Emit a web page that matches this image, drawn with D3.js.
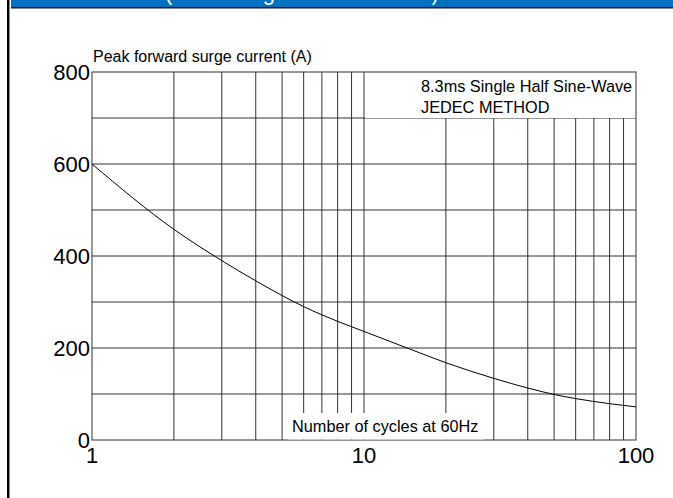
<!DOCTYPE html>
<html>
<head>
<meta charset="utf-8">
<script src="https://cdn.jsdelivr.net/npm/d3@7"></script>
<style>
  body { margin: 0; background: #fff; }
  svg { display: block; font-family: Arial, "Liberation Sans", sans-serif; }
</style>
</head>
<body>
<div id="chart"></div>
<script>
// Surge current vs number of cycles
const cycles = [1, 2, 3, 4, 5, 6, 8, 10, 15, 20, 30, 40, 50, 60, 80, 100];
const surgeAmps = [600, 458, 390, 346, 314, 290, 258, 236, 196, 168, 134, 113, 99, 90, 79, 72];

const xTicks = [1, 10, 100];
const yTicks = [0, 200, 400, 600, 800];
const yGrid = [100, 200, 300, 400, 500, 600, 700];
const xGrid = [2, 3, 4, 5, 6, 7, 8, 9, 10, 20, 30, 40, 50, 60, 70, 80, 90];

const headerText = "(Peak Surge Current Curve)";
const yTitle = "Peak forward surge current (A)";
const xTitle = "Number of cycles at 60Hz";
const noteLines = ["8.3ms Single Half Sine-Wave", "JEDEC METHOD"];

const width = 673, height = 498;
const margin = { top: 72, right: 37, bottom: 58, left: 92 };

const svg = d3.select("#chart")
  .append("svg")
  .attr("width", width)
  .attr("height", height);

// page frame: blue header strip and left border
svg.append("rect").attr("x", 11).attr("y", 0).attr("width", width - 11).attr("height", 7).attr("fill", "#0070c0");
svg.append("rect").attr("x", 11).attr("y", 7).attr("width", width - 11).attr("height", 1).attr("fill", "#1a1a1a");
svg.append("rect").attr("x", 11).attr("y", 8).attr("width", width - 11).attr("height", 1).attr("fill", "#8a8a8a");
svg.append("rect").attr("x", 7).attr("y", 0).attr("width", 2).attr("height", height).attr("fill", "#000");
svg.append("rect").attr("x", 9).attr("y", 0).attr("width", 1).attr("height", height).attr("fill", "#8a8a8a");

// header title, mostly cut off at the top of the page
svg.append("text")
  .attr("x", 165)
  .attr("y", 0)
  .attr("fill", "#fff")
  .attr("font-size", 22)
  .text(headerText);

const x = d3.scaleLog()
  .domain([1, 100])
  .range([margin.left, width - margin.right]);

const y = d3.scaleLinear()
  .domain([0, 800])
  .range([height - margin.bottom, margin.top]);

const grid = svg.append("g").attr("stroke", "#333").attr("stroke-width", 1);

grid.selectAll(".hgrid")
  .data(yGrid)
  .enter()
  .append("line")
  .attr("x1", x(1))
  .attr("x2", x(100))
  .attr("y1", d => y(d))
  .attr("y2", d => y(d));

grid.selectAll(".vgrid")
  .data(xGrid)
  .enter()
  .append("line")
  .attr("x1", d => x(d))
  .attr("x2", d => x(d))
  .attr("y1", y(0))
  .attr("y2", y(800));

// white panel behind the method note (top right band)
svg.append("rect")
  .attr("x", x(10) + 1)
  .attr("y", y(800))
  .attr("width", x(100) - x(10) - 1)
  .attr("height", y(700) - y(800))
  .attr("fill", "#fff");

// plot frame
svg.append("rect")
  .attr("x", x(1))
  .attr("y", y(800))
  .attr("width", x(100) - x(1))
  .attr("height", y(0) - y(800))
  .attr("fill", "none")
  .attr("stroke", "#333")
  .attr("stroke-width", 1);

// axis title on the x axis, sits inside the bottom band
const xLabel = svg.append("text")
  .attr("x", 292)
  .attr("y", 432)
  .attr("font-size", 16.3)
  .attr("fill", "#000")
  .text(xTitle);

const bb = xLabel.node().getBBox();
svg.insert("rect", "text:last-of-type")
  .attr("x", bb.x - 4)
  .attr("y", 413)
  .attr("width", bb.width + 10)
  .attr("height", y(0) - 413 - 0.5)
  .attr("fill", "#fff");

// curve
const line = d3.line()
  .x((d, i) => x(cycles[i]))
  .y(d => y(d))
  .curve(d3.curveMonotoneX);

svg.append("path")
  .datum(surgeAmps)
  .attr("d", line)
  .attr("fill", "none")
  .attr("stroke", "#000")
  .attr("stroke-width", 1);

// tick labels
svg.selectAll(".ylab")
  .data(yTicks)
  .enter()
  .append("text")
  .attr("x", margin.left - 2)
  .attr("y", d => y(d) + 8)
  .attr("text-anchor", "end")
  .attr("font-size", 22)
  .text(d => d);

svg.selectAll(".xlab")
  .data(xTicks)
  .enter()
  .append("text")
  .attr("x", d => x(d))
  .attr("y", 463)
  .attr("text-anchor", "middle")
  .attr("font-size", 22)
  .text(d => d);

svg.append("text")
  .attr("x", 93)
  .attr("y", 62)
  .attr("font-size", 16)
  .text(yTitle);

svg.selectAll(".note")
  .data(noteLines)
  .enter()
  .append("text")
  .attr("x", 421)
  .attr("y", (d, i) => 92 + i * 21)
  .attr("font-size", 16.3)
  .text(d => d);
</script>
</body>
</html>
